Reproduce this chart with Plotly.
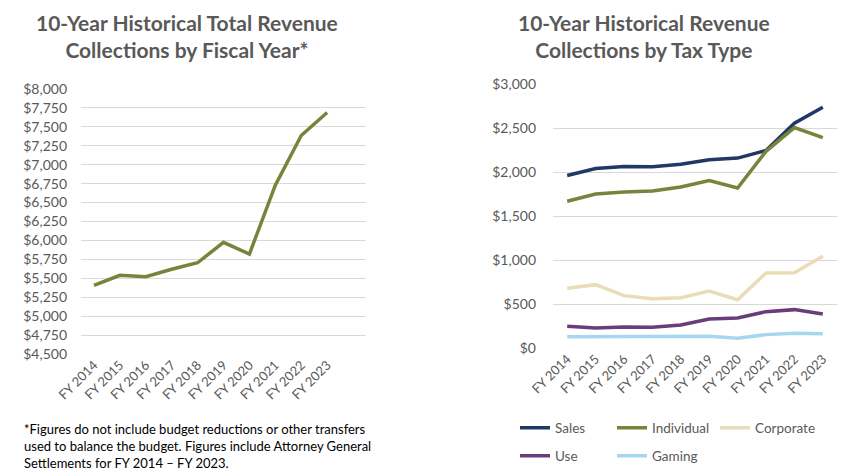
import plotly.graph_objects as go

years = ["FY 2014", "FY 2015", "FY 2016", "FY 2017", "FY 2018",
         "FY 2019", "FY 2020", "FY 2021", "FY 2022", "FY 2023"]

# total revenue collections, $ millions
total = [5405, 5540, 5520, 5620, 5705, 5975, 5820, 6730, 7385, 7690]

# collections by tax type, $ millions
sales = [1960, 2040, 2062, 2060, 2087, 2140, 2158, 2245, 2555, 2735]
individual = [1667, 1750, 1773, 1784, 1830, 1902, 1818, 2235, 2505, 2390]
corporate = [678, 720, 595, 561, 572, 648, 549, 852, 856, 1042]
use = [246, 227, 239, 235, 261, 330, 341, 413, 436, 386]
gaming = [129, 131, 133, 133, 129, 133, 110, 152, 167, 163]

grey = "#595959"
font = "Lato"

fig = go.Figure()

fig.add_trace(go.Scatter(x=years, y=total, mode="lines", showlegend=False,
                         line=dict(color="#77843b", width=3.5),
                         xaxis="x", yaxis="y"))

# legend rows: Sales/Individual/Corporate on top, Use/Gaming below
series = [("Sales", sales, "#1f3864", "legend"),
          ("Individual", individual, "#77843b", "legend"),
          ("Corporate", corporate, "#e9dcb7", "legend3"),
          ("Use", use, "#6a3d7a", "legend2"),
          ("Gaming", gaming, "#a6d7ee", "legend2")]
for name, vals, col, leg in series:
    fig.add_trace(go.Scatter(x=years, y=vals, mode="lines", name=name,
                             line=dict(color=col, width=3.5),
                             xaxis="x2", yaxis="y2", legend=leg))

W, H = 856, 476
OFF = 8  # page body margin pushes the figure 8px right and down

def fx(a):
    return (a - OFF) / W

def fy(b):
    return 1 - (b - OFF) / H

xcommon = dict(type="category", tickangle=-45, showgrid=False, showline=False,
               ticks="", tickfont=dict(size=13, color=grey, family=font))
ycommon = dict(showgrid=True, gridcolor="#d9d9d9", gridwidth=1, zeroline=False,
               tickprefix="$", tickformat=",", ticks="", showline=False,
               tickfont=dict(size=14, color=grey, family=font))

legcommon = dict(orientation="h", entrywidth=52, entrywidthmode="pixels",
                 font=dict(size=13.5, color=grey, family=font),
                 bgcolor="rgba(0,0,0,0)", xanchor="left", yanchor="middle",
                 itemclick=False)

fig.update_layout(
    width=W, height=H,
    margin=dict(l=0, r=0, t=0, b=0, autoexpand=False),
    paper_bgcolor="white", plot_bgcolor="white",
    font=dict(family=font, color=grey),
    xaxis=dict(xcommon, domain=[fx(81), fx(366)], range=[-0.5, 10.5], anchor="y"),
    yaxis=dict(ycommon, domain=[fy(354), fy(89)], range=[4500, 8000], dtick=250,
               anchor="x", ticklabelstandoff=13),
    xaxis2=dict(xcommon, domain=[fx(553), fx(837)], range=[-0.5, 9.5], anchor="y2"),
    yaxis2=dict(ycommon, domain=[fy(348), fy(84)], range=[0, 3000], dtick=500,
                anchor="x2", ticklabelstandoff=16),
    legend=dict(legcommon, x=fx(515), y=fy(428)),
    legend2=dict(legcommon, x=fx(515), y=fy(456)),
    legend3=dict(legcommon, entrywidth=0, x=fx(715), y=fy(428)),
    annotations=[
        dict(text="<b>10-Year Historical Total Revenue<br>Collections by Fiscal Year*</b>",
             x=fx(187), y=fy(36), xref="paper", yref="paper",
             xanchor="center", yanchor="middle",
             showarrow=False, font=dict(size=21, color=grey, family=font)),
        dict(text="<b>10-Year Historical Revenue<br>Collections by Tax Type</b>",
             x=fx(644), y=fy(36), xref="paper", yref="paper",
             xanchor="center", yanchor="middle",
             showarrow=False, font=dict(size=21, color=grey, family=font)),
        dict(text="*Figures do not include budget reductions or other transfers<br>"
                  "used to balance the budget. Figures include Attorney General<br>"
                  "Settlements for FY 2014 \u2013 FY 2023.",
             x=fx(22), y=fy(446), xref="paper", yref="paper",
             xanchor="left", yanchor="middle", align="left", showarrow=False,
             font=dict(size=13, color="#000000", family=font)),
    ],
)

fig.write_html("out.html")
